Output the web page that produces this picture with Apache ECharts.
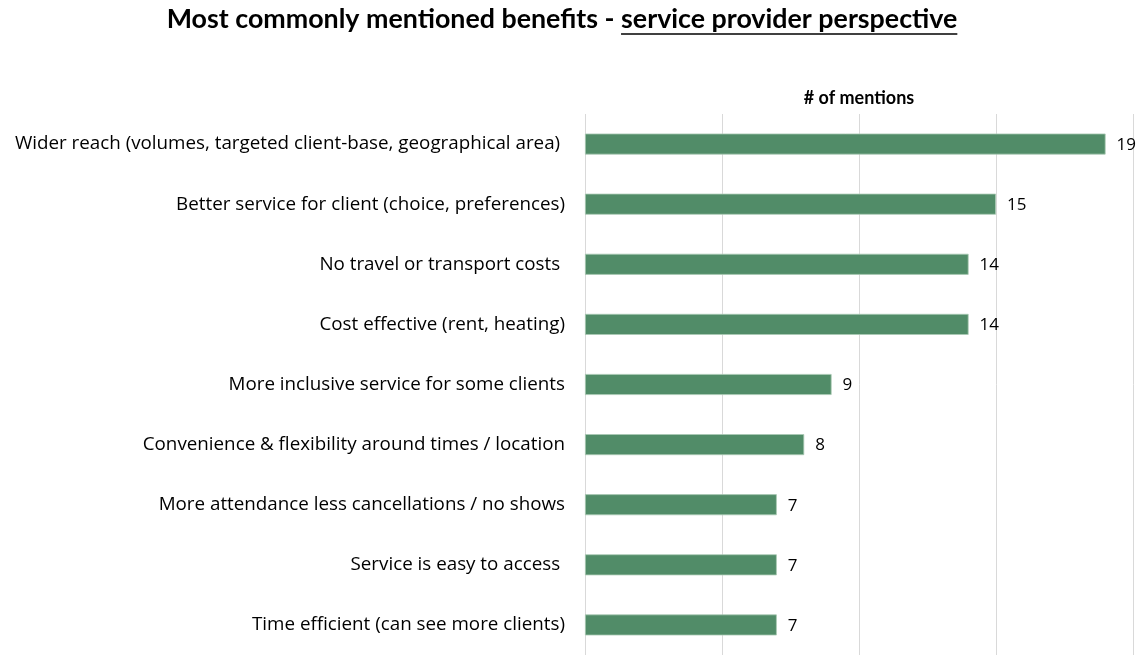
<!DOCTYPE html>
<html>
<head>
<meta charset="utf-8">
<style>
  html, body { margin: 0; padding: 0; background: #fff; }
  #chart { width: 1145px; height: 655px; }
</style>
<script src="https://cdn.jsdelivr.net/npm/echarts@6/dist/echarts.min.js"></script>
</head>
<body>
<div id="chart"></div>
<script>
// Benefits mentioned by service providers, top to bottom
const categories = [
  'Wider reach (volumes, targeted client-base, geographical area) ',
  'Better service for client (choice, preferences)',
  'No travel or transport costs ',
  'Cost effective (rent, heating)',
  'More inclusive service for some clients',
  'Convenience & flexibility around times / location',
  'More attendance less cancellations / no shows',
  'Service is easy to access ',
  'Time efficient (can see more clients)'
];
const mentions = [19, 15, 14, 14, 9, 8, 7, 7, 7];
const titleMain = 'Most commonly mentioned benefits - ';
const titleUnderlined = 'service provider perspective';
const axisName = '# of mentions';

const FONT = 'Lato, "Open Sans", sans-serif';
const LABEL_FONT = '"Open Sans", Lato, sans-serif';
const TITLE_SIZE = 26.8;
const titleFont = 'bold ' + TITLE_SIZE + 'px ' + FONT;

// measure the two title pieces; the second one is underlined
const ctx = document.createElement('canvas').getContext('2d');
ctx.font = titleFont;
const wMain = ctx.measureText(titleMain).width;
const wUnder = ctx.measureText(titleUnderlined).width;
const titleCenter = 562;
const splitX = titleCenter - (wMain + wUnder) / 2 + wMain;
const titleTop = 6;

const chart = echarts.init(document.getElementById('chart'), null, { renderer: 'canvas' });
chart.setOption({
  animation: false,
  backgroundColor: '#ffffff',
  textStyle: { fontFamily: FONT },
  graphic: [
    {
      type: 'text',
      x: splitX, y: titleTop,
      style: { text: titleMain, font: titleFont, fill: '#000', align: 'right', verticalAlign: 'top' }
    },
    {
      type: 'text',
      x: splitX, y: titleTop,
      style: { text: titleUnderlined, font: titleFont, fill: '#000', align: 'left', verticalAlign: 'top' }
    },
    {
      type: 'line',
      shape: { x1: splitX, y1: 34, x2: splitX + wUnder, y2: 34 },
      style: { stroke: '#000', lineWidth: 1.5 }
    }
  ],
  grid: { left: 585, right: 12, top: 114, bottom: -2 },
  xAxis: {
    type: 'value',
    min: 0,
    max: 20,
    interval: 5,
    position: 'top',
    name: axisName,
    nameLocation: 'middle',
    nameGap: 7,
    nameTextStyle: { fontFamily: FONT, fontSize: 18, fontWeight: 'bold', color: '#000' },
    axisLabel: { show: false },
    axisTick: { show: false },
    axisLine: { show: false },
    splitLine: { show: true, lineStyle: { color: '#d9d9d9', width: 1 } }
  },
  yAxis: {
    type: 'category',
    data: categories,
    inverse: true,
    axisLine: { show: false },
    axisTick: { show: false },
    axisLabel: { fontFamily: LABEL_FONT, fontSize: 18.8, color: '#000', margin: 20 }
  },
  series: [{
    type: 'bar',
    data: mentions,
    barWidth: 21,
    itemStyle: { color: '#518c68', borderColor: '#a9c9b4', borderWidth: 0.8 },
    label: {
      show: true,
      position: 'right',
      distance: 11,
      fontFamily: LABEL_FONT,
      fontSize: 17,
      color: '#000',
      offset: [0, 1]
    }
  }]
});
</script>
</body>
</html>
